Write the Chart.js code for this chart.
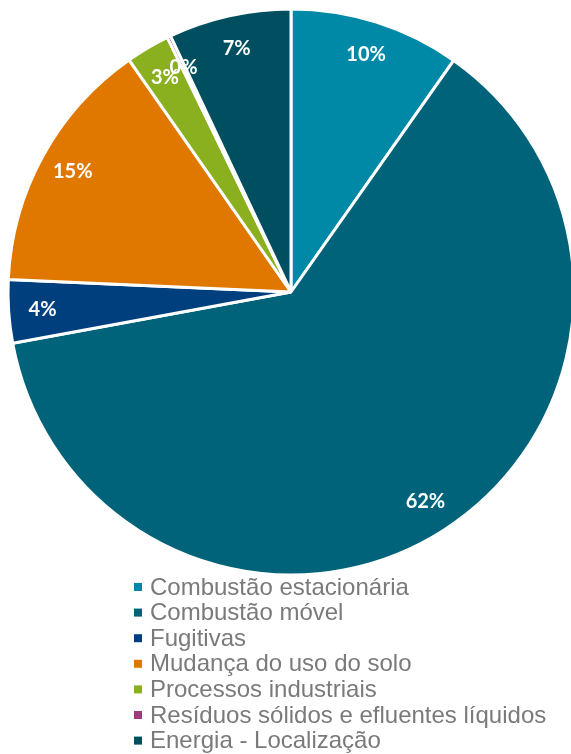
<!DOCTYPE html>
<html>
<head>
<meta charset="utf-8">
<script src="https://cdn.jsdelivr.net/npm/chart.js@4"></script>
<style>
  html, body { margin: 0; padding: 0; background: #ffffff; }
  canvas { display: block; }
</style>
</head>
<body>
<canvas id="pie" width="571" height="754"></canvas>
<script>
// Emissions share by source category (%)
const categories = [
  'Combustão estacionária',
  'Combustão móvel',
  'Fugitivas',
  'Mudança do uso do solo',
  'Processos industriais',
  'Resíduos sólidos e efluentes líquidos',
  'Energia - Localização'
];
const shares = [9.75, 62.35, 3.6, 14.6, 2.5, 0.2, 7.0];
const sliceColors = ['#0089A6', '#006379', '#003F7E', '#E07800', '#8AB020', '#9B3D7A', '#004F60'];

// Percentage labels written near the outer edge of each slice
const sliceLabels = {
  id: 'sliceLabels',
  afterDatasetsDraw(chart) {
    const ctx = chart.ctx;
    const meta = chart.getDatasetMeta(0);
    const data = chart.data.datasets[0].data;
    const total = data.reduce((a, b) => a + b, 0);
    ctx.save();
    ctx.fillStyle = '#ffffff';
    ctx.font = 'bold 20px Lato, "Open Sans", sans-serif';
    ctx.textAlign = 'center';
    ctx.textBaseline = 'middle';
    meta.data.forEach((arc, i) => {
      const p = arc.getProps(['x', 'y', 'startAngle', 'endAngle', 'outerRadius'], true);
      const mid = (p.startAngle + p.endAngle) / 2;
      const r = p.outerRadius * 0.88;
      const txt = Math.round(data[i] / total * 100) + '%';
      ctx.fillText(txt, p.x + Math.cos(mid) * r, p.y + Math.sin(mid) * r);
    });
    ctx.restore();
  }
};

// Vertical legend below the pie
const stackedLegend = {
  id: 'stackedLegend',
  afterDraw(chart) {
    const ctx = chart.ctx;
    const colors = chart.data.datasets[0].backgroundColor;
    const left = 134, top = 587, step = 25.6;
    ctx.save();
    ctx.font = '24px "Liberation Sans", Arial, sans-serif';
    ctx.textBaseline = 'middle';
    chart.data.labels.forEach((label, i) => {
      const y = top + i * step;
      ctx.fillStyle = colors[i];
      ctx.fillRect(left, y - 4, 8, 8);
      ctx.fillStyle = '#7A7A7A';
      ctx.fillText(label, left + 16, y + 1);
    });
    ctx.restore();
  }
};

new Chart(document.getElementById('pie'), {
  type: 'pie',
  data: {
    labels: categories,
    datasets: [{
      data: shares,
      backgroundColor: sliceColors,
      borderColor: '#ffffff',
      borderWidth: 3
    }]
  },
  options: {
    responsive: false,
    animation: false,
    devicePixelRatio: 1,
    radius: 283,
    layout: { padding: { left: 11, right: 0, top: 9, bottom: 179 } },
    plugins: {
      legend: { display: false },
      tooltip: { enabled: false }
    }
  },
  plugins: [sliceLabels, stackedLegend]
});
</script>
</body>
</html>
